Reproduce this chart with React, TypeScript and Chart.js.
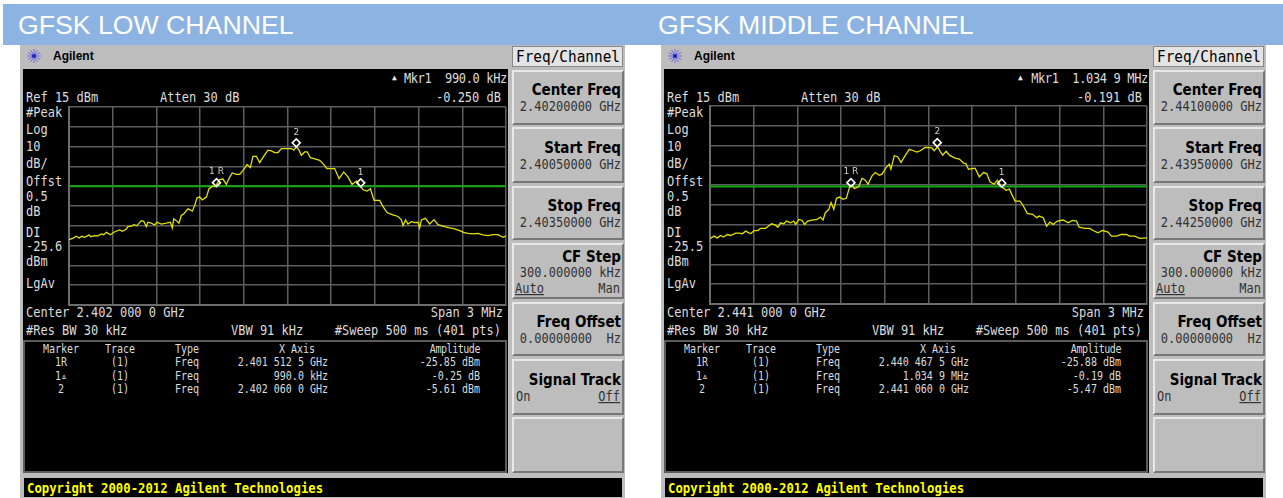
import React, { useEffect, useRef } from "react";
import { Chart, registerables } from "chart.js";

Chart.register(...registerables);

// frequency offset from start of span (kHz) and level (dBm)
const lowFreq = [0,28,50,69,87,108,138,149,176,199,222,238,257,284,314,348,366,394,405,428,444,467,497,513,531,542,565,588,604,634,668,696,709,719,737,755,771,787,817,847,863,879,897,915,943,961,984,1007,1034,1057,1080,1103,1121,1149,1172,1199,1222,1245,1263,1286,1309,1336,1366,1389,1412,1435,1458,1492,1527,1543,1561,1579,1595,1618,1636,1657,1687,1721,1744,1771,1824,1854,1886,1916,1943,1973,1996,2019,2046,2069,2094,2133,2156,2183,2224,2259,2282,2293,2311,2327,2350,2373,2396,2407,2419,2446,2476,2506,2533,2579,2613,2648,2682,2709,2739,2774,2808,2842,2877,2911,2945,2980,3000];
const lowLevel = [-52.0,-51.2,-50.3,-51.2,-50.3,-50.8,-49.6,-50.5,-50.0,-50.1,-49.1,-49.5,-48.3,-49.5,-48.0,-47.1,-47.8,-46.6,-45.4,-45.2,-44.4,-44.9,-42.4,-42.7,-45.4,-43.2,-43.7,-44.6,-43.2,-44.1,-43.7,-43.2,-46.1,-41.5,-42.4,-43.7,-39.8,-39.0,-36.4,-37.6,-34.7,-30.9,-30.5,-31.9,-30.5,-26.3,-25.1,-25.0,-21.7,-21.4,-24.1,-20.4,-18.3,-19.0,-19.0,-16.6,-14.0,-15.6,-9.9,-9.9,-13.1,-9.9,-6.8,-7.2,-8.0,-8.0,-6.0,-6.0,-6.0,-6.8,-5.1,-6.8,-9.4,-7.7,-7.7,-10.6,-11.2,-11.9,-13.6,-16.1,-16.1,-21.2,-17.8,-20.4,-24.1,-22.4,-24.6,-26.8,-27.5,-26.3,-32.2,-32.2,-35.3,-38.3,-39.5,-40.3,-42.0,-44.9,-42.0,-44.1,-42.9,-43.4,-43.2,-46.1,-42.0,-41.2,-44.1,-41.9,-44.4,-45.4,-46.1,-46.6,-47.4,-48.3,-48.8,-49.1,-48.8,-49.6,-50.0,-49.5,-49.5,-50.8,-50.0];
const midFreq = [0,28,50,73,92,119,142,176,199,222,245,279,302,329,347,381,409,423,450,466,484,507,525,553,575,587,610,633,649,671,701,735,758,776,792,815,831,850,868,891,913,936,959,982,991,1021,1044,1066,1085,1112,1135,1162,1180,1210,1231,1242,1265,1288,1311,1340,1368,1397,1420,1443,1477,1523,1539,1562,1580,1598,1621,1648,1683,1712,1740,1756,1774,1820,1849,1877,1900,1922,1950,1973,2002,2032,2055,2094,2128,2151,2178,2215,2242,2260,2288,2311,2333,2356,2384,2425,2459,2489,2516,2534,2573,2607,2630,2664,2694,2733,2756,2790,2824,2858,2881,2915,2950,3000];
const midLevel = [-51.9,-50.7,-51.6,-50.4,-51.2,-49.9,-50.4,-49.2,-49.2,-49.5,-48.2,-49.5,-47.9,-47.9,-46.8,-46.8,-45.2,-44.5,-45.2,-46.2,-44.0,-44.5,-43.1,-44.0,-43.1,-44.8,-42.3,-42.8,-44.8,-43.1,-42.6,-42.3,-41.1,-42.6,-38.9,-37.2,-33.8,-37.2,-31.6,-31.0,-32.1,-31.6,-25.7,-25.7,-26.7,-25.7,-21.5,-22.5,-24.5,-20.3,-18.6,-20.0,-19.4,-16.0,-14.4,-16.9,-10.1,-10.6,-13.5,-10.1,-6.9,-7.6,-8.3,-7.6,-5.9,-6.2,-7.6,-5.6,-7.9,-9.8,-7.9,-10.1,-11.3,-11.8,-13.8,-14.0,-16.9,-16.4,-20.8,-18.6,-19.1,-23.3,-24.5,-22.5,-25.7,-27.6,-27.0,-33.0,-33.0,-35.5,-39.2,-39.7,-41.4,-40.6,-41.4,-45.7,-43.6,-44.8,-43.1,-42.6,-44.0,-42.8,-43.1,-46.2,-46.8,-46.8,-47.9,-49.0,-47.9,-48.7,-50.7,-50.7,-49.9,-49.9,-50.7,-50.7,-51.9,-51.6];

const markerNames = ["1R", "2", "1"];
const lowMarkerFreq = [1012.5, 1560, 2002.5];
const lowMarkerLevel = [-23.2, -3.1, -23.3];
const midMarkerFreq = [967.5, 1560, 2002.4];
const midMarkerLevel = [-23.7, -3.5, -24.0];
const lowDisplayLine = -25;
const midDisplayLine = -25.7;

const sideLabelsCommon = ["#Peak", "Log", "10", "dB/", "Offst", "0.5", "dB", "DI"];
const softkeyTitles = ["Center Freq", "Start Freq", "Stop Freq", "CF Step", "Freq Offset", "Signal Track"];
const tableColumns = ["Marker", "Trace", "Type", "X Axis", "Amplitude"];
const tableMarkers = ["1R", "1▵", "2"];

const lowText = {
  title: "GFSK LOW CHANNEL",
  mkr: "Mkr1  990.0 kHz",
  mkrAmp: "-0.250 dB",
  dl: "-25.6",
  center: "Center 2.402 000 0 GHz",
  soft: ["2.40200000 GHz", "2.40050000 GHz", "2.40350000 GHz"],
  xaxis: ["2.401 512 5 GHz", "990.0 kHz", "2.402 060 0 GHz"],
  amp: ["-25.85 dBm", "-0.25 dB", "-5.61 dBm"],
};
const midText = {
  title: "GFSK MIDDLE CHANNEL",
  mkr: "Mkr1  1.034 9 MHz",
  mkrAmp: "-0.191 dB",
  dl: "-25.5",
  center: "Center 2.441 000 0 GHz",
  soft: ["2.44100000 GHz", "2.43950000 GHz", "2.44250000 GHz"],
  xaxis: ["2.440 467 5 GHz", "1.034 9 MHz", "2.441 060 0 GHz"],
  amp: ["-25.88 dBm", "-0.19 dB", "-5.47 dBm"],
};

const MONO = '"DejaVu Sans Mono", monospace';
const COND = '"DejaVu Sans Condensed", "DejaVu Sans", sans-serif';
const SANS = '"Liberation Sans", sans-serif';
const GREY = "#bdbdbd";

function T(p: { x: number; y: number; s: string; size?: number; color?: string; align?: "l" | "r" | "c"; bold?: boolean; font?: string; under?: boolean; stretch?: number; spacing?: number }) {
  const tx = p.align === "r" ? "-100%" : p.align === "c" ? "-50%" : "0";
  const sy = p.stretch === undefined ? 1.2 : p.stretch;
  return (
    <div
      style={{
        position: "absolute",
        left: p.x,
        top: p.y,
        transform: `translate(${tx}, -50%) scaleY(${sy})`,
        fontFamily: p.font || MONO,
        fontSize: p.size || 12,
        fontWeight: p.bold ? 700 : 400,
        color: p.color || "#dcdcdc",
        whiteSpace: "pre",
        lineHeight: 1,
        letterSpacing: p.spacing || 0,
        textDecoration: p.under ? "underline" : "none",
      }}
    >
      {p.s}
    </div>
  );
}

function Box(p: { x: number; y: number; w: number; h: number; bg: string; border?: string }) {
  return <div style={{ position: "absolute", left: p.x, top: p.y, width: p.w, height: p.h, background: p.bg, border: p.border, boxSizing: "border-box" }} />;
}

const markerLabels = {
  id: "markerLabels",
  afterDatasetsDraw(chart: any) {
    const idx = chart.data.datasets.findIndex((d: any) => d.label === "markers");
    const meta = chart.getDatasetMeta(idx);
    const ctx = chart.ctx;
    ctx.save();
    ctx.font = '9px "DejaVu Sans", sans-serif';
    ctx.fillStyle = "#d0d0d0";
    ctx.textAlign = "center";
    ctx.textBaseline = "bottom";
    meta.data.forEach((pt: any, i: number) => {
      ctx.fillText(markerNames[i].split("").join(" "), pt.x, pt.y - 6);
    });
    ctx.restore();
  },
};

const zeroWidth = (s: any) => { s.width = 0; };
const zeroHeight = (s: any) => { s.height = 0; s.paddingLeft = 0; s.paddingRight = 0; };

function Plot(p: { x: number; y: number; freq: number[]; level: number[]; mf: number[]; ml: number[]; dl: number }) {
  const ref = useRef<HTMLCanvasElement>(null);
  useEffect(() => {
    const chart = new Chart(ref.current as HTMLCanvasElement, {
      type: "line",
      data: {
        datasets: [
          {
            label: "markers",
            data: p.mf.map((f, i) => ({ x: f, y: p.ml[i] })),
            showLine: false,
            pointStyle: "rectRot",
            pointRadius: 4,
            pointBorderColor: "#ffffff",
            pointBackgroundColor: "rgba(0,0,0,0)",
            pointBorderWidth: 1.6,
            order: 0,
          },
          {
            label: "trace",
            data: p.freq.map((f, i) => ({ x: f, y: p.level[i] })),
            borderColor: "#e2e200",
            borderWidth: 1.3,
            pointRadius: 0,
            tension: 0,
            order: 1,
          },
          {
            label: "display line",
            data: [{ x: 0, y: p.dl }, { x: 3000, y: p.dl }],
            borderColor: "#12a512",
            borderWidth: 2,
            pointRadius: 0,
            order: 2,
          },
        ],
      },
      options: {
        animation: false,
        responsive: false,
        layout: { padding: 2, autoPadding: false },
        plugins: { legend: { display: false }, tooltip: { enabled: false } },
        scales: {
          x: {
            type: "linear",
            min: 0,
            max: 3000,
            afterFit: zeroHeight,
            ticks: { display: false, stepSize: 300, padding: 0 },
            grid: { color: "#5e5e5e", lineWidth: 1.5, drawTicks: false },
            border: { color: "#6c6c6c", width: 2 },
          },
          y: {
            type: "linear",
            min: -85,
            max: 15,
            afterFit: zeroWidth,
            ticks: { display: false, stepSize: 10, padding: 0 },
            grid: { color: "#5e5e5e", lineWidth: 1.5, drawTicks: false },
            border: { color: "#6c6c6c", width: 2 },
          },
        },
      },
      plugins: [markerLabels],
    } as any);
    return () => chart.destroy();
  }, []);
  return <canvas ref={ref} width={441} height={202} style={{ position: "absolute", left: p.x - 2, top: p.y - 2, width: 441, height: 202, display: "block" }} />;
}

function Star(p: { x: number; y: number }) {
  const spokes = [0, 30, 60, 90, 120, 150];
  return (
    <svg style={{ position: "absolute", left: p.x - 8, top: p.y - 8 }} width={16} height={16} viewBox="-8 -8 16 16">
      {spokes.map((a) => (
        <line key={a} x1={-7 * Math.cos((a * Math.PI) / 180)} y1={-7 * Math.sin((a * Math.PI) / 180)} x2={7 * Math.cos((a * Math.PI) / 180)} y2={7 * Math.sin((a * Math.PI) / 180)} stroke="#6a6ae8" strokeWidth={1} />
      ))}
      <circle r={2} fill="#2020c0" />
    </svg>
  );
}

function Panel(p: { dx: number; triX: number; t: typeof lowText; plotTop: number; freq: number[]; level: number[]; mf: number[]; ml: number[]; dl: number }) {
  const d = p.dx;
  const t = p.t;
  const sideY = [112, 129, 146, 163, 181, 196, 211, 232];
  const softY = [90, 148, 206, 257, 322, 380];
  const softTop = [70, 127, 186, 243, 302, 359, 417];
  const softH = [55, 56, 54, 56, 54, 56, 56];
  const rowY = [362, 376, 389];
  const TBL = 10;
  return (
    <>
      <Box x={20 + d} y={45} w={605} h={453} bg={GREY} />
      <Box x={23 + d} y={69} w={485} h={404} bg="#000" />
      <Box x={23 + d} y={340} w={484} h={133} bg="#000" border="2px solid #5c5c5c" />
      <Star x={34 + d} y={56} />
      <T x={53 + d} y={56} s="Agilent" size={12} bold font={SANS} color="#000" stretch={1} />
      <Box x={512 + d} y={46} w={111} h={21} bg="#e4e4e4" border="1px solid #888" />
      <T x={568 + d} y={57} s="Freq/Channel" size={14.4} color="#000" align="c" stretch={1.1} />

      {softTop.map((y, i) => (
        <div key={y} style={{ position: "absolute", left: 512 + d, top: y, width: 112, height: softH[i], boxSizing: "border-box", background: GREY, borderTop: "2px solid #e8e8e8", borderLeft: "2px solid #e8e8e8", borderRight: "2px solid #777", borderBottom: "2px solid #777" }} />
      ))}
      {softkeyTitles.map((s, i) => (
        <T key={s} x={621 + d} y={softY[i]} s={s} size={15} bold color="#000" align="r" font={COND} stretch={1.05} />
      ))}
      {t.soft.map((s, i) => (
        <T key={s} x={621 + d} y={106 + i * 58} s={s} size={12} color="#333" align="r" />
      ))}
      <T x={621 + d} y={272} s="300.000000 kHz" color="#333" align="r" />
      <T x={515 + d} y={288} s="Auto" color="#333" under />
      <T x={620 + d} y={288} s="Man" color="#333" align="r" />
      <T x={621 + d} y={338} s="0.00000000  Hz" color="#333" align="r" />
      <T x={516 + d} y={396} s="On" color="#333" />
      <T x={620 + d} y={396} s="Off" color="#333" align="r" under />

      <T x={p.triX} y={78} s="▲" size={8} color="#e8e8e8" stretch={1} />
      <T x={507 + d} y={78} s={t.mkr} align="r" spacing={-0.35} />
      <T x={501 + d} y={97} s={t.mkrAmp} align="r" />
      <T x={26 + d} y={97} s="Ref 15 dBm" />
      <T x={160 + d} y={97} s="Atten 30 dB" />
      {sideLabelsCommon.map((s, i) => (
        <T key={s + i} x={26 + d} y={sideY[i]} s={s} />
      ))}
      <T x={26 + d} y={246} s={t.dl} />
      <T x={26 + d} y={261} s="dBm" />
      <T x={26 + d} y={283} s="LgAv" />
      <T x={26 + d} y={312} s={t.center} />
      <T x={503 + d} y={312} s="Span 3 MHz" align="r" />
      <T x={26 + d} y={330} s="#Res BW 30 kHz" />
      <T x={231 + d} y={330} s="VBW 91 kHz" />
      <T x={501 + d} y={330} s="#Sweep 500 ms (401 pts)" align="r" />

      {tableColumns.slice(0, 3).map((s, i) => (
        <T key={s} x={[61, 120, 187][i] + d} y={349} s={s} size={TBL} align="c" />
      ))}
      <T x={297 + d} y={349} s={tableColumns[3]} size={TBL} align="c" />
      <T x={480 + d} y={349} s={tableColumns[4]} size={TBL} align="r" spacing={-0.45} />
      {tableMarkers.map((s, i) => (
        <React.Fragment key={s}>
          <T x={61 + d} y={rowY[i]} s={s} size={TBL} align="c" />
          <T x={120 + d} y={rowY[i]} s="(1)" size={TBL} align="c" />
          <T x={187 + d} y={rowY[i]} s="Freq" size={TBL} align="c" />
          <T x={328 + d} y={rowY[i]} s={t.xaxis[i]} size={TBL} align="r" />
          <T x={480 + d} y={rowY[i]} s={t.amp[i]} size={TBL} align="r" />
        </React.Fragment>
      ))}

      <Box x={24 + d} y={478} w={598} h={19} bg="#000" />
      <T x={27 + d} y={488} s="Copyright 2000-2012 Agilent Technologies" size={12.3} bold color="#ffff00" />

      <Plot x={69 + d} y={p.plotTop} freq={p.freq} level={p.level} mf={p.mf} ml={p.ml} dl={p.dl} />
      <T x={18 + (d === 0 ? 0 : 640)} y={25} s={t.title} size={26.67} color="#fff" font={SANS} stretch={1} />
    </>
  );
}

export default function App() {
  useEffect(() => {
    document.body.style.margin = "0";
    document.body.style.background = "#fff";
  }, []);
  return (
    <div style={{ position: "absolute", left: 0, top: 0, width: 1283, height: 498, overflow: "hidden", background: "#fff", filter: "blur(0.35px)" }}>
      <Box x={3} y={4} w={1280} h={41} bg="#8db3e2" />
      <Panel dx={0} triX={392} t={lowText} plotTop={107} freq={lowFreq} level={lowLevel} mf={lowMarkerFreq} ml={lowMarkerLevel} dl={lowDisplayLine} />
      <Panel dx={641} triX={1018} t={midText} plotTop={105.5} freq={midFreq} level={midLevel} mf={midMarkerFreq} ml={midMarkerLevel} dl={midDisplayLine} />
    </div>
  );
}
